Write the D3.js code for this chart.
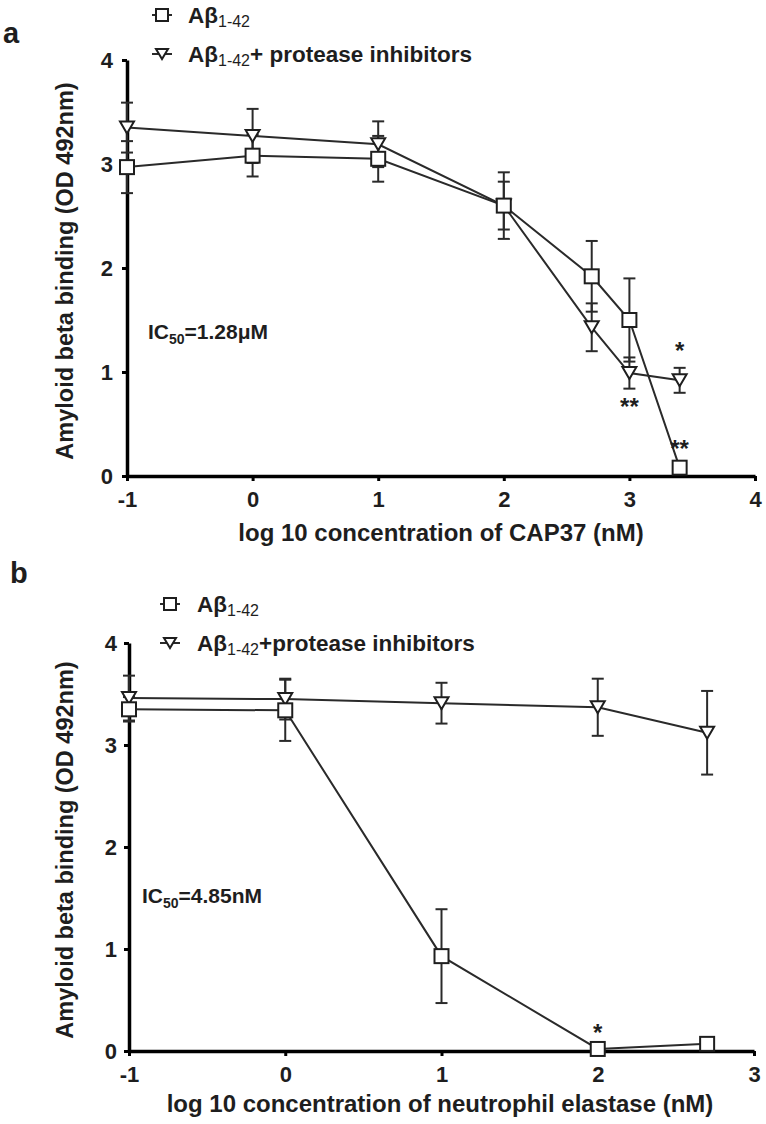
<!DOCTYPE html>
<html>
<head>
<meta charset="utf-8">
<script src="https://cdn.jsdelivr.net/npm/d3@7"></script>
<style>
  body { margin: 0; background: #fff; }
  svg { display: block; }
  text { font-family: "Liberation Sans", Arial, sans-serif; font-weight: bold; fill: #1e1e1e; }
</style>
</head>
<body>
<div id="chart"></div>
<script>
// panel a: CAP37
const xA = [-1, 0, 1, 2, 2.7, 3, 3.4];
const abA = [2.97, 3.08, 3.05, 2.6, 1.92, 1.5, 0.08];
const abErrA = [0.25, 0.2, 0.22, 0.32, 0.34, 0.4, 0.03];
const piA = [3.35, 3.27, 3.19, 2.6, 1.43, 0.99, 0.92];
const piErrA = [0.24, 0.26, 0.22, 0.23, 0.23, 0.15, 0.12];
const starsA = [
  { x: 3.4, y: 1.22, text: "*" },
  { x: 3.0, y: 0.68, text: "**" },
  { x: 3.4, y: 0.28, text: "**" }
];

// panel b: neutrophil elastase
const xB = [-1, 0, 1, 2, 2.7];
const abB = [3.35, 3.34, 0.93, 0.02, 0.07];
const abErrB = [0.12, 0.3, 0.46, 0.02, 0.02];
const piB = [3.46, 3.45, 3.41, 3.37, 3.12];
const piErrB = [0.22, 0.2, 0.2, 0.28, 0.41];
const starsB = [{ x: 2, y: 0.2, text: "*" }];

const yTicks = [0, 1, 2, 3, 4];
const xTicksA = [-1, 0, 1, 2, 3, 4];
const xTicksB = [-1, 0, 1, 2, 3];

const width = 766, height = 1124;
const svg = d3.select("#chart").append("svg")
  .attr("width", width).attr("height", height);

const triPath = "M-7,-6L7,-6L0,6Z";
const narrow = "'Liberation Sans Narrow', 'Arial Narrow', 'Liberation Sans', sans-serif";

function panel(cfg) {
  const g = svg.append("g");
  const x = d3.scaleLinear().domain(cfg.xDomain).range(cfg.xRange);
  const y = d3.scaleLinear().domain([0, 4]).range(cfg.yRange);
  const fmt = d => d < 0 ? "-" + Math.abs(d) : String(d);

  // axes
  const ax = g.append("g")
    .attr("transform", `translate(0,${cfg.yRange[0]})`)
    .call(d3.axisBottom(x).tickValues(cfg.xTicks).tickFormat(fmt).tickSize(5).tickSizeOuter(0).tickPadding(cfg.xPad));
  const ay = g.append("g")
    .attr("transform", `translate(${cfg.xRange[0]},0)`)
    .call(d3.axisLeft(y).tickValues(yTicks).tickFormat(fmt).tickSize(5).tickSizeOuter(0).tickPadding(cfg.yPad));
  [ax, ay].forEach(a => {
    a.select(".domain").attr("stroke", "#000").attr("stroke-width", 3.5);
    a.selectAll(".tick line").attr("stroke", "#000").attr("stroke-width", 3);
    a.selectAll(".tick text").attr("font-size", 22).attr("fill", "#1e1e1e")
      .attr("font-family", narrow).attr("font-weight", "bold");
  });

  // axis titles
  g.append("text")
    .attr("x", cfg.xTitlePos[0]).attr("y", cfg.xTitlePos[1])
    .attr("text-anchor", "middle").attr("font-size", 24)
    .text(cfg.xTitle);
  g.append("text")
    .attr("transform", `translate(${cfg.yTitlePos[0]},${cfg.yTitlePos[1]}) rotate(-90)`)
    .attr("text-anchor", "middle").attr("font-size", 23.5)
    .text("Amyloid beta binding (OD 492nm)");

  const line = d3.line().x(d => x(d[0])).y(d => y(d[1]));
  const series = [
    { vals: cfg.pi, err: cfg.piErr, shape: "tri" },
    { vals: cfg.ab, err: cfg.abErr, shape: "sq" }
  ];

  // error bars
  series.forEach(s => {
    const eb = g.append("g").attr("stroke", "#2a2a2a").attr("stroke-width", 2);
    cfg.xs.forEach((xv, i) => {
      const cx = x(xv), hi = y(s.vals[i] + s.err[i]), lo = y(s.vals[i] - s.err[i]);
      eb.append("line").attr("x1", cx).attr("x2", cx).attr("y1", hi).attr("y2", lo);
      eb.append("line").attr("x1", cx - 6).attr("x2", cx + 6).attr("y1", hi).attr("y2", hi);
      eb.append("line").attr("x1", cx - 6).attr("x2", cx + 6).attr("y1", lo).attr("y2", lo);
    });
  });
  // connecting lines
  series.forEach(s => {
    g.append("path")
      .attr("d", line(cfg.xs.map((xv, i) => [xv, s.vals[i]])))
      .attr("fill", "none").attr("stroke", "#2a2a2a").attr("stroke-width", 2);
  });
  // markers
  series.forEach(s => {
    const pts = g.append("g");
    cfg.xs.forEach((xv, i) => {
      if (s.shape === "sq") {
        pts.append("rect")
          .attr("x", x(xv) - 7).attr("y", y(s.vals[i]) - 7)
          .attr("width", 14).attr("height", 14)
          .attr("fill", "#fff").attr("stroke", "#1e1e1e").attr("stroke-width", 2);
      } else {
        pts.append("path")
          .attr("d", triPath)
          .attr("transform", `translate(${x(xv)},${y(s.vals[i])})`)
          .attr("fill", "#fff").attr("stroke", "#1e1e1e").attr("stroke-width", 2);
      }
    });
  });

  // significance stars
  g.selectAll(".star").data(cfg.stars).join("text")
    .attr("x", d => x(d.x)).attr("y", d => y(d.y) + 10)
    .attr("text-anchor", "middle").attr("font-size", 24).attr("font-weight", "normal")
    .attr("fill", "#000")
    .text(d => d.text);

  // IC50 note
  const ic = g.append("text")
    .attr("x", cfg.icPos[0]).attr("y", cfg.icPos[1]).attr("font-size", 21);
  ic.append("tspan").text("IC");
  ic.append("tspan").attr("font-size", 14).attr("dy", 5).text("50");
  ic.append("tspan").attr("dy", -5).text(cfg.icText);

  // legend
  const leg = g.append("g");
  cfg.legend.forEach((l, i) => {
    const lg = leg.append("g").attr("transform", `translate(${l.pos[0]},${l.pos[1]})`);
    lg.append("line").attr("x1", -10).attr("x2", 10).attr("stroke", "#2a2a2a").attr("stroke-width", 2);
    if (i === 0) {
      lg.append("rect").attr("x", -6).attr("y", -6).attr("width", 12).attr("height", 12)
        .attr("fill", "#fff").attr("stroke", "#1e1e1e").attr("stroke-width", 2);
    } else {
      lg.append("path").attr("d", "M-6,-5L6,-5L0,5Z")
        .attr("fill", "#fff").attr("stroke", "#1e1e1e").attr("stroke-width", 2);
    }
    const t = lg.append("text").attr("x", cfg.legendTextDx).attr("y", 8).attr("font-size", 22.5);
    t.append("tspan").text("Aβ");
    t.append("tspan").attr("font-size", 16).attr("font-weight", "normal").attr("dy", 4).text("1-42");
    if (l.extra) t.append("tspan").attr("dy", -4).text(l.extra);
  });

  // panel letter
  g.append("text").attr("x", cfg.letterPos[0]).attr("y", cfg.letterPos[1])
    .attr("font-size", 29).attr("fill", "#000").text(cfg.letter);
}

panel({
  xs: xA, ab: abA, abErr: abErrA, pi: piA, piErr: piErrA, stars: starsA,
  xDomain: [-1, 4], xRange: [127, 755], yRange: [476, 60], xTicks: xTicksA,
  xPad: 10, yPad: 9,
  xTitle: "log 10 concentration of CAP37 (nM)", xTitlePos: [441, 541], yTitlePos: [73, 271],
  icPos: [148, 339], icText: "=1.28μM",
  legend: [{ pos: [162, 15] }, { pos: [162, 54], extra: "+ protease inhibitors" }],
  legendTextDx: 26, letter: "a", letterPos: [3, 43]
});

panel({
  xs: xB, ab: abB, abErr: abErrB, pi: piB, piErr: piErrB, stars: starsB,
  xDomain: [-1, 3], xRange: [129, 754], yRange: [1051, 643], xTicks: xTicksB,
  xPad: 10, yPad: 7,
  xTitle: "log 10 concentration of neutrophil elastase (nM)", xTitlePos: [440, 1112], yTitlePos: [73, 850],
  icPos: [142, 903], icText: "=4.85nM",
  legend: [{ pos: [170, 604] }, { pos: [170, 643], extra: "+protease inhibitors" }],
  legendTextDx: 27, letter: "b", letterPos: [10, 583]
});
</script>
</body>
</html>
